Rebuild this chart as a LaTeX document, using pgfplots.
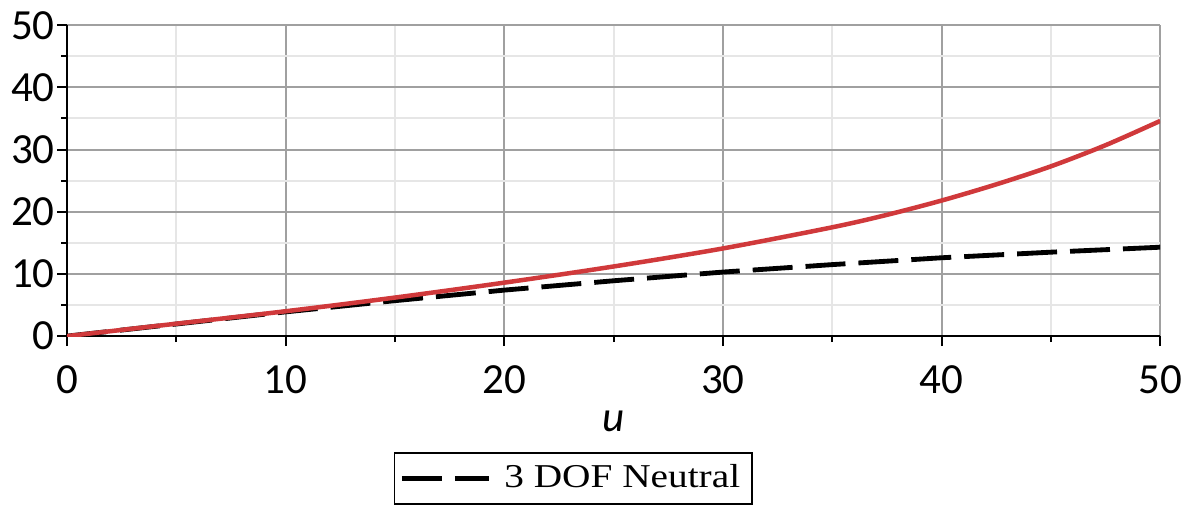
\documentclass[border=0pt]{standalone}
\usepackage{fontspec}
\setmainfont{Liberation Serif}
\newfontfamily\carlito{Carlito}
\usepackage{graphicx}
\usepackage{pgfplots}
\pgfplotsset{compat=1.18}
\definecolor{redline}{HTML}{D0393B}
\definecolor{majgrid}{HTML}{A0A0A0}
\definecolor{mingrid}{HTML}{E6E6E6}

\pgfplotstableread{
u    neutral
0    0.0
5    1.95
10   3.9
15   5.7
20   7.4
25   8.9
30   10.3
35   11.5
40   12.6
45   13.5
50   14.3
}\neutraltbl

\pgfplotstableread{
u     red
0     0.0
5     2.0
10    4.0
15    6.2
20    8.6
25    11.2
30    14.1
35    17.5
37.5  19.5
40    21.8
42.5  24.4
45    27.3
47.5  30.7
50    34.6
}\redtbl

\begin{document}
\begin{tikzpicture}
\begin{axis}[
  scale only axis,
  width=328pt, height=93.3pt,
  xmin=0, xmax=50, ymin=0, ymax=50,
  xtick={0,10,...,50}, ytick={0,10,...,50},
  minor xtick={5,15,...,45}, minor ytick={5,15,...,45},
  grid=both,
  major grid style={color=majgrid, line width=0.6pt},
  minor grid style={color=mingrid, line width=0.6pt},
  axis x line*=bottom, axis y line*=left,
  axis line style={line width=0.7pt, black, -},
  tick align=outside,
  major tick length=3pt, minor tick length=1.8pt,
  tick style={black, line width=0.6pt},
  tick label style={font=\fontsize{12.9}{14}\selectfont\carlito},
  /pgf/number format/assume math mode=true,
  xticklabel style={yshift=-2.2pt},
  yticklabel style={xshift=2.8pt},
  xlabel={\fontsize{12.9}{14}\selectfont\carlito\itshape u},
  xlabel style={yshift=1.5pt},
  legend style={at={(0.463,-0.373)}, anchor=north, draw=black, line width=0.6pt,
    font=\fontsize{10}{11}\selectfont, inner xsep=1.5pt, inner ysep=1.2pt,
    nodes={inner xsep=2pt, inner ysep=2.2pt}},
  legend image code/.code={\draw[#1] (0pt,0pt) -- (26pt,0pt);},
]
\addplot[black, line width=1.45pt, dash pattern=on 12pt off 3.9pt] table[x=u, y=neutral] {\neutraltbl};
\addlegendentry{\hspace{2pt}\scalebox{1.18}[1]{3 DOF Neutral}}
\addplot[redline, line width=1.35pt, smooth, forget plot] table[x=u, y=red] {\redtbl};
\end{axis}
\end{tikzpicture}
\end{document}
